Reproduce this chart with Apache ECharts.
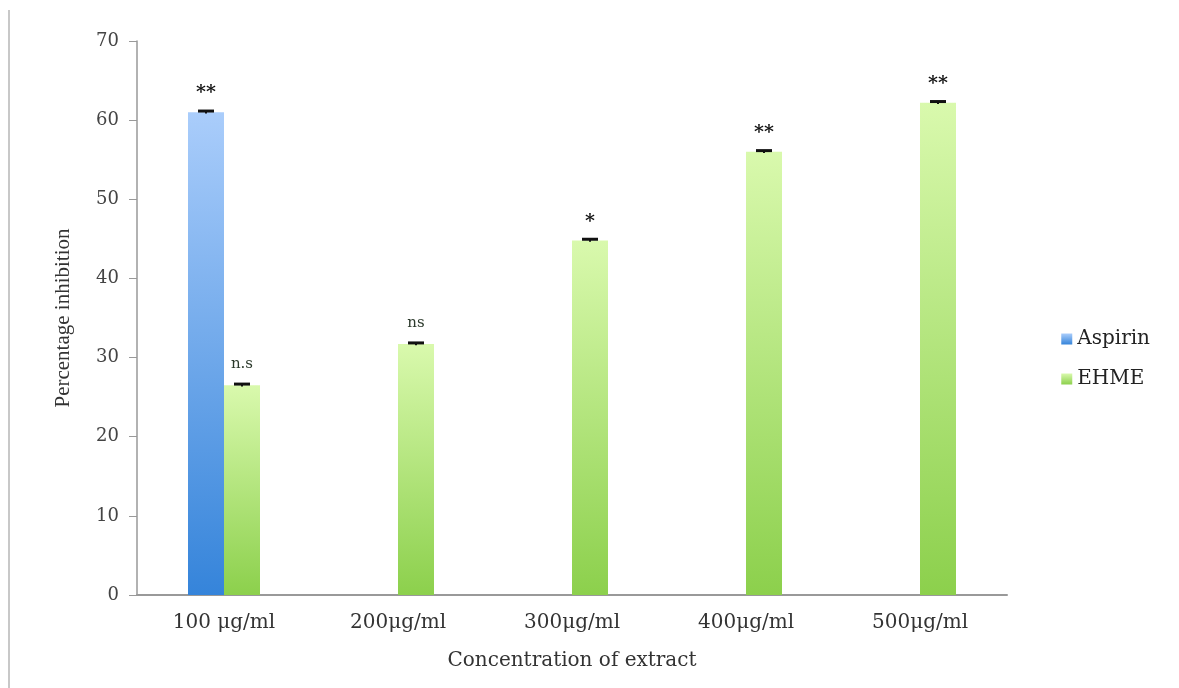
<!DOCTYPE html>
<html>
<head>
<meta charset="utf-8">
<script src="https://cdn.jsdelivr.net/npm/echarts@6/dist/echarts.min.js"></script>
<style>
  html, body { margin: 0; padding: 0; background: #fff; }
  #chart { width: 1179px; height: 688px; }
</style>
</head>
<body>
<div id="chart"></div>
<script>
// Inhibition (%) by concentration
const categories = ['100 μg/ml', '200μg/ml', '300μg/ml', '400μg/ml', '500μg/ml'];
const aspirin = [61.0, null, null, null, null];
const ehme = [26.5, 31.7, 44.8, 56.0, 62.2];
const aspirinErr = [0.15, null, null, null, null];
const ehmeErr = [0.15, 0.15, 0.15, 0.15, 0.15];
const aspirinSig = ['**', '', '', '', ''];
const ehmeSig = ['n.s', 'ns', '*', '**', '**'];
const yTicks = [0, 10, 20, 30, 40, 50, 60, 70];

const BAR_W = 36;
const serif = 'DejaVu Serif';

const chart = echarts.init(document.getElementById('chart'), null, { renderer: 'canvas' });

function grad(top, bottom) {
  return new echarts.graphic.LinearGradient(0, 0, 0, 1, [
    { offset: 0, color: top },
    { offset: 1, color: bottom }
  ]);
}

// Error caps and significance marks drawn over each bar
function errorSeries(values, errs, marks, dir) {
  const data = values.map((v, i) => v == null ? null : [i, v, errs[i], marks[i]]).filter(d => d);
  return {
    type: 'custom',
    silent: true,
    z: 5,
    data: data,
    encode: { x: 0, y: 1 },
    renderItem: function (params, api) {
      const i = api.value(0);
      const v = api.value(1);
      const e = api.value(2);
      const mark = marks[i];
      const c = api.coord([i, v]);
      const cx = c[0] + dir * BAR_W / 2;
      const yHi = api.coord([i, v + e])[1];
      const yLo = api.coord([i, v - e])[1];
      const children = [
        { type: 'line', shape: { x1: cx, y1: yHi, x2: cx, y2: yLo }, style: { stroke: '#111', lineWidth: 2 } },
        { type: 'line', shape: { x1: cx - 8, y1: yHi, x2: cx + 8, y2: yHi }, style: { stroke: '#111', lineWidth: 3 } }
      ];
      if (mark) {
        const isStar = mark.indexOf('*') >= 0;
        children.push({
          type: 'text',
          style: {
            text: mark,
            x: cx,
            y: yHi - (isStar ? 8 : 12),
            align: 'center',
            verticalAlign: 'bottom',
            fontFamily: serif,
            fontSize: isStar ? 19 : 15,
            fontWeight: isStar ? 'bold' : 'normal',
            fill: isStar ? '#111' : '#2c3a2c'
          }
        });
      }
      return { type: 'group', children: children };
    }
  };
}

const option = {
  backgroundColor: '#fff',
  animation: false,
  grid: { left: 137, right: 172, top: 41, bottom: 93 },
  legend: {
    orient: 'vertical',
    right: 24,
    top: 324,
    itemWidth: 11,
    itemHeight: 11,
    itemGap: 20,
    icon: 'rect',
    data: ['Aspirin', 'EHME'],
    textStyle: { fontFamily: serif, fontSize: 20, color: '#222' }
  },
  xAxis: {
    type: 'category',
    data: categories,
    name: 'Concentration of extract',
    nameLocation: 'middle',
    nameGap: 56,
    nameTextStyle: { fontFamily: serif, fontSize: 20, color: '#333' },
    axisLine: { show: true, lineStyle: { color: '#999', width: 2 } },
    axisTick: { show: false },
    axisLabel: { fontFamily: serif, fontSize: 20, color: '#333', margin: 18 }
  },
  yAxis: {
    type: 'value',
    min: yTicks[0],
    max: yTicks[yTicks.length - 1],
    interval: 10,
    name: 'Percentage inhibition',
    nameLocation: 'middle',
    nameGap: 63,
    nameRotate: 90,
    nameTextStyle: { fontFamily: 'Liberation Serif', fontSize: 21, color: '#333' },
    axisLine: { show: true, lineStyle: { color: '#999', width: 1.5 } },
    axisTick: { show: true, length: 8, lineStyle: { color: '#999' } },
    splitLine: { show: false },
    axisLabel: { fontFamily: serif, fontSize: 18, color: '#444', margin: 18 }
  },
  series: [
    {
      name: 'Aspirin',
      type: 'bar',
      data: aspirin,
      barWidth: BAR_W,
      barGap: '0%',
      itemStyle: { color: grad('#aacdfb', '#3584da') }
    },
    {
      name: 'EHME',
      type: 'bar',
      data: ehme,
      barWidth: BAR_W,
      barGap: '0%',
      itemStyle: { color: grad('#d9f9ad', '#8cd04c') }
    },
    errorSeries(aspirin, aspirinErr, aspirinSig, -1),
    errorSeries(ehme, ehmeErr, ehmeSig, 1)
  ],
  graphic: [
    {
      type: 'line',
      shape: { x1: 9, y1: 10, x2: 9, y2: 688 },
      style: { stroke: '#c8c8c8', lineWidth: 2 }
    }
  ]
};

chart.setOption(option);
</script>
</body>
</html>
